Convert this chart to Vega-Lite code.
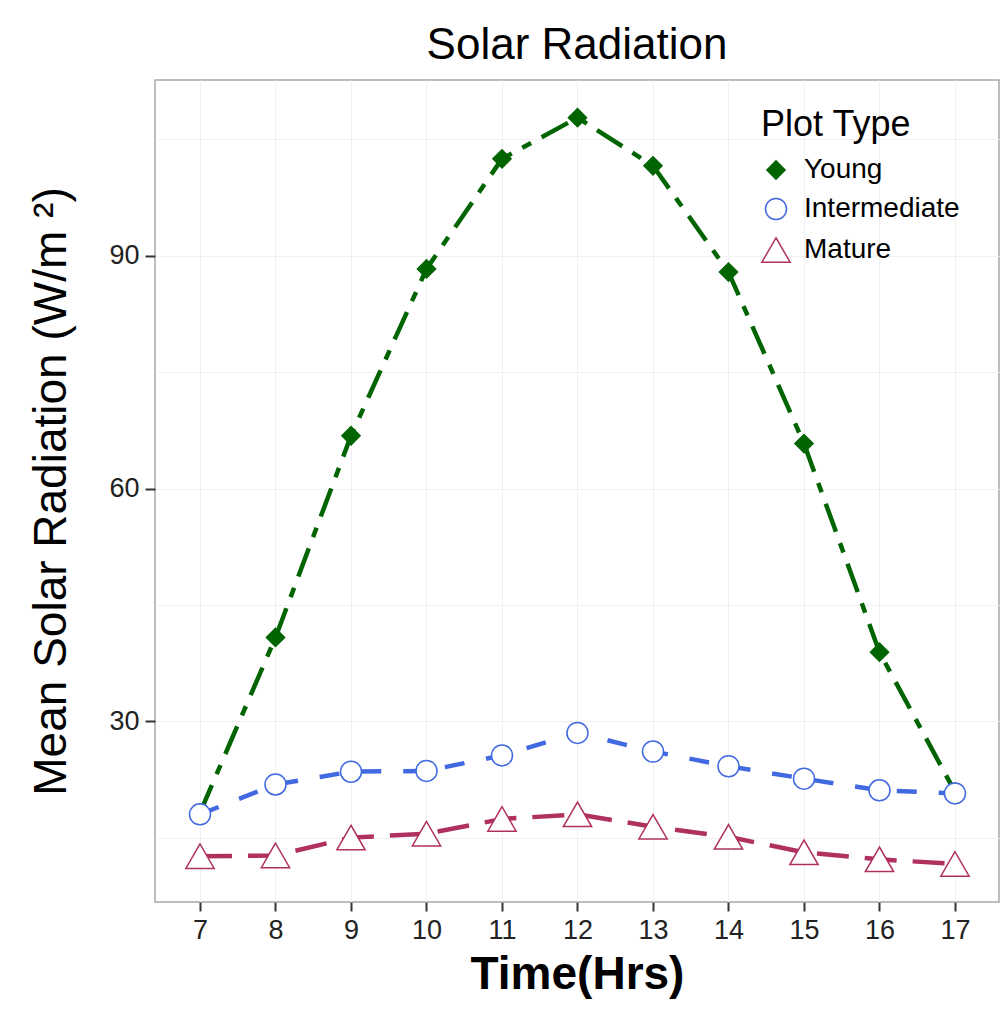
{
  "$schema": "https://vega.github.io/schema/vega-lite/v6.json",
  "autosize": "none",
  "width": 844,
  "height": 822,
  "padding": {"left": 155, "top": 80, "right": 8, "bottom": 110},
  "background": "white",
  "title": {
    "text": "Solar Radiation",
    "fontSize": 44,
    "fontWeight": "normal",
    "font": "Liberation Sans",
    "color": "#000000",
    "anchor": "middle",
    "offset": 12
  },
  "data": {
    "values": [
      {"hour": 7, "type": "Young", "rad": 18.2},
      {"hour": 8, "type": "Young", "rad": 40.8},
      {"hour": 9, "type": "Young", "rad": 66.8},
      {"hour": 10, "type": "Young", "rad": 88.3},
      {"hour": 11, "type": "Young", "rad": 102.5},
      {"hour": 12, "type": "Young", "rad": 107.8},
      {"hour": 13, "type": "Young", "rad": 101.6},
      {"hour": 14, "type": "Young", "rad": 87.9},
      {"hour": 15, "type": "Young", "rad": 65.8},
      {"hour": 16, "type": "Young", "rad": 38.9},
      {"hour": 17, "type": "Young", "rad": 20.9},
      {"hour": 7, "type": "Intermediate", "rad": 18.0},
      {"hour": 8, "type": "Intermediate", "rad": 21.85},
      {"hour": 9, "type": "Intermediate", "rad": 23.5},
      {"hour": 10, "type": "Intermediate", "rad": 23.6},
      {"hour": 11, "type": "Intermediate", "rad": 25.6},
      {"hour": 12, "type": "Intermediate", "rad": 28.5},
      {"hour": 13, "type": "Intermediate", "rad": 26.1},
      {"hour": 14, "type": "Intermediate", "rad": 24.2},
      {"hour": 15, "type": "Intermediate", "rad": 22.6},
      {"hour": 16, "type": "Intermediate", "rad": 21.1},
      {"hour": 17, "type": "Intermediate", "rad": 20.7},
      {"hour": 7, "type": "Mature", "rad": 12.6},
      {"hour": 8, "type": "Mature", "rad": 12.7},
      {"hour": 9, "type": "Mature", "rad": 15.0},
      {"hour": 10, "type": "Mature", "rad": 15.5},
      {"hour": 11, "type": "Mature", "rad": 17.4},
      {"hour": 12, "type": "Mature", "rad": 18.0},
      {"hour": 13, "type": "Mature", "rad": 16.4},
      {"hour": 14, "type": "Mature", "rad": 15.1},
      {"hour": 15, "type": "Mature", "rad": 13.1},
      {"hour": 16, "type": "Mature", "rad": 12.2},
      {"hour": 17, "type": "Mature", "rad": 11.6}
    ]
  },
  "encoding": {
    "x": {
      "field": "hour",
      "type": "quantitative",
      "scale": {"domain": [6.404, 17.583], "nice": false, "zero": false},
      "axis": {
        "title": "Time(Hrs)",
        "values": [7, 8, 9, 10, 11, 12, 13, 14, 15, 16, 17],
        "format": "d",
        "domain": false,
        "tickSize": 9,
        "tickWidth": 2,
        "tickColor": "#333333",
        "labelFontSize": 27,
        "labelFont": "Liberation Sans",
        "labelColor": "#222222",
        "labelPadding": 6,
        "gridColor": "#f0f0f0",
        "gridWidth": 1,
        "titleFont": "Liberation Sans",
        "titleFontSize": 46,
        "titleFontWeight": "bold",
        "titleColor": "#000000",
        "titlePadding": 9
      }
    },
    "y": {
      "field": "rad",
      "type": "quantitative",
      "scale": {"domain": [6.7, 112.66], "nice": false, "zero": false},
      "axis": {
        "title": "Mean Solar Radiation (W/m ²)",
        "values": [15, 30, 45, 60, 75, 90, 105],
        "labelExpr": "datum.value % 30 === 0 ? datum.label : ''",
        "tickOpacity": {"condition": {"test": "datum.value % 30 === 0", "value": 1}, "value": 0},
        "domain": false,
        "tickSize": 10,
        "tickWidth": 2,
        "tickColor": "#333333",
        "labelFontSize": 27,
        "labelFont": "Liberation Sans",
        "labelColor": "#222222",
        "labelPadding": 6,
        "gridColor": "#f0f0f0",
        "gridWidth": 1,
        "titleFont": "Liberation Sans",
        "titleFontSize": 46,
        "titleFontWeight": "normal",
        "titleColor": "#000000",
        "titlePadding": 33
      }
    }
  },
  "layer": [
    {
      "mark": {"type": "line", "strokeWidth": 4.5, "strokeCap": "butt"},
      "encoding": {
        "stroke": {
          "field": "type",
          "type": "nominal",
          "title": "Plot Type",
          "scale": {"domain": ["Young", "Intermediate", "Mature"], "range": ["#006400", "#4169E1", "#B03060"]},
          "legend": {
            "orient": "none",
            "legendX": 606,
            "legendY": 28,
            "titleFont": "Liberation Sans",
            "titleFontSize": 36,
            "titleFontWeight": "normal",
            "titleColor": "#000000",
            "titlePadding": 12,
            "labelFont": "Liberation Sans",
            "labelFontSize": 28,
            "labelColor": "#000000",
            "symbolStrokeWidth": 1.5,
            "rowPadding": 11,
            "labelOffset": 13
          }
        },
        "strokeDash": {
          "condition": [
            {"test": "datum.type === 'Young'", "value": [30, 12, 10, 12]},
            {"test": "datum.type === 'Intermediate'", "value": [20, 22]}
          ],
          "value": [32, 16]
        }
      }
    },
    {
      "mark": {"type": "point", "strokeWidth": 1.5, "opacity": 1},
      "encoding": {
        "shape": {
          "field": "type",
          "type": "nominal",
          "title": "Plot Type",
          "scale": {"domain": ["Young", "Intermediate", "Mature"], "range": ["diamond", "circle", "triangle-up"]}
        },
        "stroke": {
          "field": "type",
          "type": "nominal",
          "title": "Plot Type",
          "scale": {"domain": ["Young", "Intermediate", "Mature"], "range": ["#006400", "#4169E1", "#B03060"]}
        },
        "fill": {
          "field": "type",
          "type": "nominal",
          "title": "Plot Type",
          "scale": {"domain": ["Young", "Intermediate", "Mature"], "range": ["#006400", "#ffffff", "#ffffff"]}
        },
        "size": {
          "field": "type",
          "type": "nominal",
          "title": "Plot Type",
          "scale": {"type": "ordinal", "domain": ["Young", "Intermediate", "Mature"], "range": [330, 441, 800]}
        }
      }
    }
  ],
  "config": {
    "view": {"stroke": "#a8a8a8", "strokeWidth": 1.5},
    "font": "Liberation Sans"
  }
}
